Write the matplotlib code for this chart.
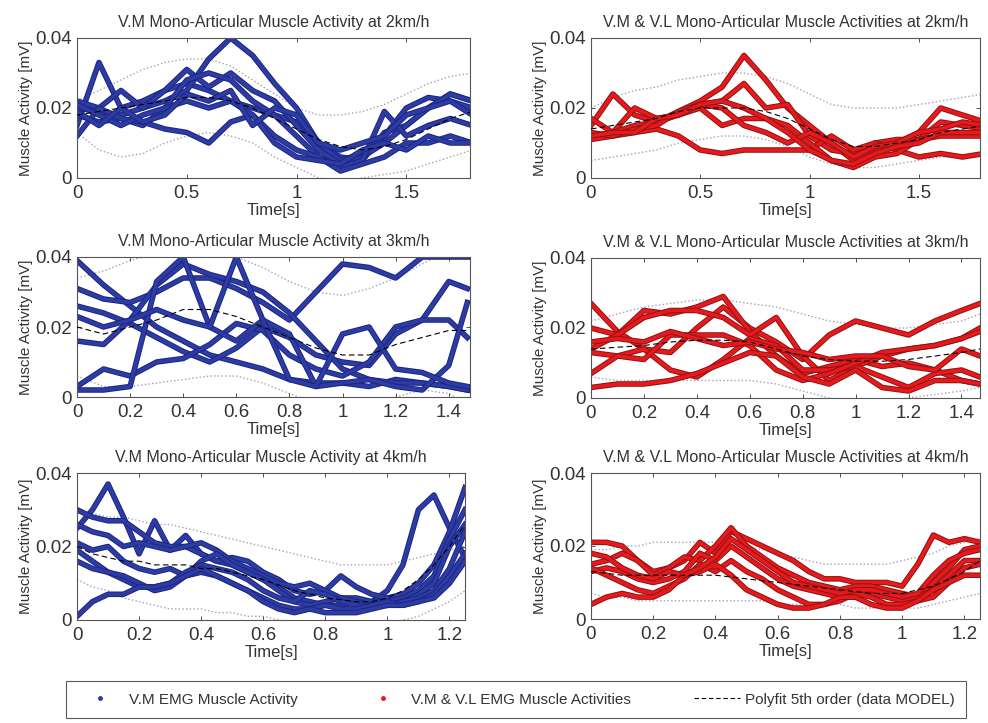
import numpy as np
import matplotlib.pyplot as plt
import matplotlib.patheffects as pe
from matplotlib.lines import Line2D

plt.rcParams['font.family'] = ['Liberation Sans', 'DejaVu Sans']

# ---------------- data ----------------
# V.M, 2 km/h  (t step 0.1 s)
vm2_t = [0.0, 0.1, 0.2, 0.3, 0.4, 0.5, 0.6, 0.7, 0.8, 0.9, 1.0, 1.1, 1.2, 1.3, 1.4, 1.5, 1.6, 1.7, 1.8]
vm2_traces = [
    [0.015, 0.033, 0.020, 0.022, 0.025, 0.027, 0.025, 0.022, 0.020, 0.018, 0.016, 0.010, 0.006, 0.005, 0.013, 0.015, 0.020, 0.024, 0.022],
    [0.020, 0.019, 0.018, 0.020, 0.022, 0.025, 0.034, 0.040, 0.035, 0.027, 0.020, 0.010, 0.005, 0.007, 0.012, 0.020, 0.023, 0.022, 0.020],
    [0.022, 0.020, 0.025, 0.020, 0.025, 0.031, 0.026, 0.030, 0.025, 0.022, 0.015, 0.008, 0.004, 0.006, 0.010, 0.015, 0.020, 0.024, 0.022],
    [0.018, 0.016, 0.017, 0.015, 0.020, 0.028, 0.030, 0.028, 0.022, 0.018, 0.012, 0.006, 0.003, 0.005, 0.019, 0.012, 0.015, 0.017, 0.015],
    [0.012, 0.020, 0.017, 0.016, 0.014, 0.013, 0.010, 0.016, 0.018, 0.012, 0.008, 0.006, 0.002, 0.004, 0.006, 0.010, 0.010, 0.012, 0.010],
    [0.021, 0.018, 0.015, 0.018, 0.020, 0.022, 0.020, 0.022, 0.018, 0.010, 0.006, 0.005, 0.004, 0.008, 0.010, 0.008, 0.012, 0.010, 0.010],
    [0.019, 0.015, 0.020, 0.016, 0.018, 0.024, 0.022, 0.025, 0.015, 0.020, 0.018, 0.010, 0.008, 0.010, 0.012, 0.018, 0.020, 0.022, 0.018],
]
vm2_upper = [0.022, 0.025, 0.028, 0.031, 0.033, 0.034, 0.034, 0.032, 0.028, 0.024, 0.020, 0.018, 0.018, 0.019, 0.021, 0.024, 0.027, 0.029, 0.030]
vm2_lower = [0.013, 0.008, 0.006, 0.007, 0.010, 0.012, 0.013, 0.012, 0.010, 0.006, 0.003, 0.000, -0.001, 0.000, 0.001, 0.002, 0.004, 0.006, 0.008]
vm2_fit = [0.018, 0.019, 0.020, 0.021, 0.022, 0.023, 0.023, 0.022, 0.020, 0.017, 0.014, 0.011, 0.009, 0.008, 0.009, 0.011, 0.014, 0.017, 0.019]

# V.M & V.L, 2 km/h
vl2_t = vm2_t
vl2_traces = [
    [0.015, 0.024, 0.018, 0.016, 0.019, 0.022, 0.026, 0.035, 0.028, 0.020, 0.015, 0.010, 0.005, 0.008, 0.010, 0.013, 0.020, 0.018, 0.016],
    [0.012, 0.013, 0.020, 0.017, 0.018, 0.021, 0.022, 0.027, 0.020, 0.021, 0.012, 0.008, 0.007, 0.010, 0.011, 0.011, 0.016, 0.015, 0.014],
    [0.011, 0.012, 0.013, 0.014, 0.012, 0.008, 0.007, 0.008, 0.008, 0.008, 0.008, 0.012, 0.008, 0.010, 0.008, 0.006, 0.007, 0.006, 0.007],
    [0.017, 0.013, 0.015, 0.016, 0.018, 0.020, 0.015, 0.017, 0.017, 0.015, 0.010, 0.005, 0.003, 0.006, 0.007, 0.011, 0.012, 0.012, 0.012],
    [0.013, 0.012, 0.014, 0.015, 0.019, 0.021, 0.020, 0.015, 0.013, 0.010, 0.013, 0.010, 0.006, 0.009, 0.010, 0.013, 0.014, 0.016, 0.015],
    [0.012, 0.013, 0.013, 0.017, 0.018, 0.021, 0.022, 0.020, 0.017, 0.013, 0.008, 0.005, 0.004, 0.007, 0.009, 0.010, 0.013, 0.013, 0.013],
]
vl2_upper = [0.020, 0.023, 0.025, 0.026, 0.028, 0.029, 0.030, 0.030, 0.029, 0.027, 0.024, 0.021, 0.020, 0.020, 0.020, 0.021, 0.022, 0.023, 0.024]
vl2_lower = [0.005, 0.006, 0.007, 0.008, 0.010, 0.011, 0.012, 0.012, 0.011, 0.009, 0.006, 0.004, 0.003, 0.003, 0.004, 0.005, 0.006, 0.006, 0.007]
vl2_fit = [0.014, 0.015, 0.016, 0.017, 0.019, 0.020, 0.020, 0.020, 0.019, 0.017, 0.014, 0.011, 0.009, 0.009, 0.010, 0.011, 0.013, 0.014, 0.015]

# V.M, 3 km/h
vm3_t = [0.0, 0.1, 0.2, 0.3, 0.4, 0.5, 0.6, 0.7, 0.8, 0.9, 1.0, 1.1, 1.2, 1.3, 1.4, 1.47]
vm3_traces = [
    [0.039, 0.032, 0.026, 0.020, 0.016, 0.012, 0.010, 0.008, 0.005, 0.004, 0.004, 0.003, 0.005, 0.004, 0.003, 0.002],
    [0.031, 0.028, 0.027, 0.030, 0.034, 0.034, 0.031, 0.027, 0.022, 0.030, 0.038, 0.037, 0.034, 0.040, 0.040, 0.040],
    [0.026, 0.024, 0.021, 0.017, 0.013, 0.010, 0.014, 0.020, 0.017, 0.012, 0.010, 0.009, 0.018, 0.022, 0.033, 0.031],
    [0.016, 0.015, 0.022, 0.032, 0.038, 0.035, 0.033, 0.030, 0.024, 0.016, 0.008, 0.005, 0.004, 0.004, 0.003, 0.002],
    [0.003, 0.008, 0.006, 0.010, 0.011, 0.015, 0.021, 0.019, 0.012, 0.008, 0.006, 0.010, 0.020, 0.022, 0.022, 0.017],
    [0.002, 0.002, 0.003, 0.033, 0.040, 0.020, 0.016, 0.022, 0.018, 0.003, 0.004, 0.005, 0.003, 0.002, 0.009, 0.027],
    [0.023, 0.020, 0.022, 0.025, 0.022, 0.020, 0.040, 0.022, 0.005, 0.003, 0.018, 0.020, 0.008, 0.007, 0.004, 0.003],
]
vm3_upper = [0.034, 0.036, 0.039, 0.041, 0.042, 0.042, 0.040, 0.037, 0.033, 0.030, 0.029, 0.031, 0.034, 0.038, 0.042, 0.045]
vm3_lower = [0.006, 0.003, 0.003, 0.004, 0.005, 0.006, 0.006, 0.004, 0.001, -0.002, -0.003, -0.002, 0.000, 0.002, 0.001, -0.002]
vm3_fit = [0.020, 0.018, 0.020, 0.022, 0.025, 0.025, 0.023, 0.020, 0.017, 0.014, 0.012, 0.012, 0.015, 0.017, 0.019, 0.019]

# V.M & V.L, 3 km/h
vl3_t = vm3_t
vl3_traces = [
    [0.027, 0.019, 0.014, 0.013, 0.020, 0.026, 0.020, 0.016, 0.011, 0.018, 0.022, 0.020, 0.018, 0.022, 0.025, 0.027],
    [0.020, 0.018, 0.025, 0.024, 0.026, 0.029, 0.019, 0.012, 0.007, 0.009, 0.011, 0.009, 0.010, 0.008, 0.005, 0.004],
    [0.014, 0.018, 0.023, 0.025, 0.025, 0.023, 0.018, 0.023, 0.012, 0.005, 0.009, 0.012, 0.014, 0.015, 0.017, 0.020],
    [0.013, 0.012, 0.014, 0.008, 0.006, 0.011, 0.017, 0.015, 0.008, 0.008, 0.009, 0.006, 0.003, 0.007, 0.008, 0.006],
    [0.007, 0.012, 0.011, 0.018, 0.018, 0.018, 0.015, 0.008, 0.005, 0.007, 0.010, 0.013, 0.014, 0.015, 0.017, 0.019],
    [0.003, 0.004, 0.004, 0.005, 0.007, 0.010, 0.013, 0.012, 0.006, 0.004, 0.008, 0.003, 0.002, 0.005, 0.005, 0.004],
    [0.016, 0.017, 0.016, 0.019, 0.017, 0.015, 0.016, 0.014, 0.013, 0.011, 0.012, 0.012, 0.009, 0.008, 0.014, 0.012],
]
vl3_upper = [0.022, 0.024, 0.026, 0.027, 0.028, 0.028, 0.027, 0.026, 0.024, 0.022, 0.021, 0.020, 0.020, 0.021, 0.022, 0.024]
vl3_lower = [0.006, 0.005, 0.005, 0.005, 0.005, 0.005, 0.005, 0.004, 0.002, 0.000, -0.001, -0.001, 0.000, 0.001, 0.002, 0.003]
vl3_fit = [0.014, 0.0145, 0.015, 0.016, 0.0165, 0.0165, 0.016, 0.014, 0.012, 0.011, 0.0105, 0.0105, 0.011, 0.012, 0.013, 0.014]

# V.M, 4 km/h  (t step 0.05 s)
vm4_t = [0.0, 0.05, 0.1, 0.15, 0.2, 0.25, 0.3, 0.35, 0.4, 0.45, 0.5, 0.55, 0.6, 0.65, 0.7,
         0.75, 0.8, 0.85, 0.9, 0.95, 1.0, 1.05, 1.1, 1.15, 1.2, 1.25]
vm4_traces = [
    [0.025, 0.030, 0.037, 0.028, 0.018, 0.027, 0.019, 0.023, 0.018, 0.016, 0.015, 0.013, 0.011, 0.009, 0.006, 0.005, 0.004, 0.004, 0.005, 0.005, 0.008, 0.015, 0.030, 0.034, 0.025, 0.017],
    [0.030, 0.028, 0.027, 0.027, 0.024, 0.021, 0.020, 0.020, 0.018, 0.016, 0.017, 0.016, 0.013, 0.011, 0.008, 0.007, 0.008, 0.012, 0.009, 0.007, 0.006, 0.007, 0.010, 0.015, 0.024, 0.036],
    [0.026, 0.024, 0.023, 0.020, 0.021, 0.020, 0.019, 0.020, 0.021, 0.019, 0.016, 0.014, 0.012, 0.010, 0.009, 0.010, 0.008, 0.006, 0.006, 0.005, 0.005, 0.006, 0.008, 0.012, 0.022, 0.030],
    [0.021, 0.019, 0.020, 0.016, 0.014, 0.013, 0.014, 0.012, 0.016, 0.018, 0.015, 0.013, 0.011, 0.008, 0.005, 0.004, 0.005, 0.006, 0.005, 0.004, 0.004, 0.005, 0.007, 0.010, 0.020, 0.026],
    [0.019, 0.016, 0.013, 0.011, 0.009, 0.009, 0.010, 0.013, 0.015, 0.014, 0.013, 0.011, 0.008, 0.006, 0.005, 0.008, 0.007, 0.005, 0.004, 0.004, 0.004, 0.005, 0.006, 0.008, 0.014, 0.024],
    [0.016, 0.014, 0.013, 0.012, 0.010, 0.008, 0.009, 0.012, 0.013, 0.012, 0.010, 0.008, 0.006, 0.004, 0.003, 0.003, 0.004, 0.003, 0.003, 0.004, 0.005, 0.004, 0.005, 0.007, 0.012, 0.018],
    [0.001, 0.005, 0.007, 0.007, 0.009, 0.009, 0.010, 0.012, 0.014, 0.012, 0.010, 0.008, 0.005, 0.003, 0.002, 0.003, 0.002, 0.002, 0.002, 0.003, 0.004, 0.004, 0.005, 0.006, 0.010, 0.016],
]
vm4_upper = [0.029, 0.029, 0.028, 0.028, 0.027, 0.026, 0.026, 0.025, 0.024, 0.023, 0.022, 0.021, 0.020, 0.019, 0.018, 0.017, 0.016, 0.015, 0.015, 0.015, 0.015, 0.016, 0.017, 0.018, 0.019, 0.020]
vm4_lower = [0.011, 0.009, 0.008, 0.006, 0.005, 0.004, 0.003, 0.003, 0.003, 0.002, 0.002, 0.001, 0.001, 0.000, -0.001, -0.001, -0.002, -0.002, -0.002, -0.002, -0.001, 0.000, 0.001, 0.003, 0.005, 0.008]
vm4_fit = [0.020, 0.018, 0.017, 0.016, 0.016, 0.015, 0.015, 0.015, 0.014, 0.014, 0.013, 0.012, 0.011, 0.0095, 0.008, 0.007, 0.006, 0.0055, 0.005, 0.005, 0.006, 0.008, 0.011, 0.015, 0.020, 0.026]

# V.M & V.L, 4 km/h
vl4_t = vm4_t
vl4_traces = [
    [0.021, 0.021, 0.020, 0.016, 0.013, 0.014, 0.016, 0.021, 0.018, 0.024, 0.022, 0.020, 0.018, 0.016, 0.013, 0.011, 0.011, 0.010, 0.010, 0.010, 0.009, 0.015, 0.023, 0.021, 0.022, 0.021],
    [0.015, 0.016, 0.018, 0.016, 0.012, 0.014, 0.017, 0.016, 0.020, 0.025, 0.020, 0.017, 0.014, 0.012, 0.010, 0.009, 0.008, 0.009, 0.009, 0.008, 0.007, 0.006, 0.010, 0.014, 0.019, 0.020],
    [0.013, 0.014, 0.013, 0.011, 0.010, 0.011, 0.013, 0.018, 0.016, 0.020, 0.017, 0.014, 0.011, 0.009, 0.008, 0.007, 0.006, 0.006, 0.007, 0.006, 0.005, 0.006, 0.008, 0.012, 0.016, 0.016],
    [0.014, 0.012, 0.010, 0.008, 0.007, 0.009, 0.011, 0.015, 0.013, 0.016, 0.013, 0.011, 0.008, 0.006, 0.004, 0.004, 0.005, 0.007, 0.006, 0.004, 0.004, 0.005, 0.006, 0.010, 0.014, 0.015],
    [0.004, 0.006, 0.007, 0.006, 0.006, 0.008, 0.012, 0.013, 0.015, 0.012, 0.008, 0.006, 0.004, 0.003, 0.003, 0.004, 0.006, 0.006, 0.004, 0.003, 0.003, 0.005, 0.008, 0.010, 0.012, 0.012],
    [0.018, 0.017, 0.014, 0.012, 0.011, 0.013, 0.012, 0.014, 0.017, 0.022, 0.019, 0.016, 0.013, 0.010, 0.009, 0.008, 0.007, 0.008, 0.008, 0.007, 0.006, 0.007, 0.012, 0.016, 0.018, 0.019],
]
vl4_upper = [0.019, 0.019, 0.020, 0.020, 0.021, 0.021, 0.021, 0.021, 0.021, 0.020, 0.020, 0.019, 0.018, 0.017, 0.016, 0.015, 0.015, 0.015, 0.015, 0.015, 0.016, 0.017, 0.018, 0.020, 0.021, 0.022]
vl4_lower = [0.007, 0.006, 0.006, 0.005, 0.005, 0.005, 0.005, 0.005, 0.005, 0.005, 0.005, 0.005, 0.004, 0.004, 0.004, 0.004, 0.004, 0.003, 0.003, 0.003, 0.003, 0.003, 0.004, 0.005, 0.006, 0.007]
vl4_fit = [0.013, 0.0125, 0.012, 0.012, 0.012, 0.012, 0.012, 0.012, 0.012, 0.0115, 0.011, 0.0105, 0.010, 0.0095, 0.009, 0.0085, 0.008, 0.0075, 0.007, 0.007, 0.007, 0.008, 0.009, 0.011, 0.013, 0.016]

titles = ['V.M Mono-Articular Muscle Activity at 2km/h',
          'V.M & V.L Mono-Articular Muscle Activities at 2km/h',
          'V.M Mono-Articular Muscle Activity at 3km/h',
          'V.M & V.L Mono-Articular Muscle Activities at 3km/h',
          'V.M Mono-Articular Muscle Activity at 4km/h',
          'V.M & V.L Mono-Articular Muscle Activities at 4km/h']
legend_labels = ['V.M EMG Muscle Activity', 'V.M & V.L EMG Muscle Activities',
                 'Polyfit 5th order (data MODEL)']

BLUE = '#2d3ca4'
BLUE_EDGE = '#1c2580'
RED = '#e8191c'
RED_EDGE = '#8a1414'
TXT = '#333333'


def draw_panel(ax, t, traces, upper, lower, fit, color, edge, xmax, xticks, title):
    ax.plot(t, upper, ':', color='#a89cbc', lw=1.0, zorder=1)
    ax.plot(t, lower, ':', color='#a89cbc', lw=1.0, zorder=1)
    for y in traces:
        ax.plot(t, y, '-', color=color, lw=2.6, solid_joinstyle='round', zorder=2,
                path_effects=[pe.Stroke(linewidth=4.0, foreground=edge), pe.Normal()])
    ax.plot(t, fit, '--', color='black', lw=0.8, dashes=(5, 3), zorder=3)
    ax.set_xlim(0, xmax)
    ax.set_ylim(0, 0.04)
    ax.set_xticks(xticks)
    ax.set_xticklabels([f'{v:g}' for v in xticks])
    ax.set_yticks([0, 0.02, 0.04])
    ax.set_yticklabels(['0', '0.02', '0.04'])
    ax.tick_params(direction='in', top=True, right=True, labelsize=13.5, length=3,
                   width=0.6, colors=TXT)
    ax.tick_params(axis='x', pad=5)
    ax.tick_params(axis='y', pad=3.5)
    for s in ax.spines.values():
        s.set_linewidth(0.8)
        s.set_color('#555555')
    ax.set_title(title, fontsize=11.5, pad=8, color=TXT)
    ax.set_xlabel('Time[s]', fontsize=12, labelpad=1, color=TXT)
    ax.set_ylabel('Muscle Activity [mV]', fontsize=11, labelpad=2, color=TXT)


fig = plt.figure(figsize=(9.88, 7.23), dpi=100)
W, H = 988, 723


def px_axes(x0, x1, y0, y1):
    return fig.add_axes([x0 / W, (H - y1) / H, (x1 - x0) / W, (y1 - y0) / H])


ax1 = px_axes(77, 470, 38, 178)
ax2 = px_axes(591, 980, 38, 178)
ax3 = px_axes(77, 470, 257, 397)
ax4 = px_axes(591, 980, 258, 398)
ax5 = px_axes(77, 465, 473, 620)
ax6 = px_axes(591, 980, 473, 619)

draw_panel(ax1, vm2_t, vm2_traces, vm2_upper, vm2_lower, vm2_fit, BLUE, BLUE_EDGE,
           1.79, [0, 0.5, 1, 1.5], titles[0])
draw_panel(ax2, vl2_t, vl2_traces, vl2_upper, vl2_lower, vl2_fit, RED, RED_EDGE,
           1.78, [0, 0.5, 1, 1.5], titles[1])
draw_panel(ax3, vm3_t, vm3_traces, vm3_upper, vm3_lower, vm3_fit, BLUE, BLUE_EDGE,
           1.48, [0, 0.2, 0.4, 0.6, 0.8, 1, 1.2, 1.4], titles[2])
draw_panel(ax4, vl3_t, vl3_traces, vl3_upper, vl3_lower, vl3_fit, RED, RED_EDGE,
           1.47, [0, 0.2, 0.4, 0.6, 0.8, 1, 1.2, 1.4], titles[3])
draw_panel(ax5, vm4_t, vm4_traces, vm4_upper, vm4_lower, vm4_fit, BLUE, BLUE_EDGE,
           1.25, [0, 0.2, 0.4, 0.6, 0.8, 1, 1.2], titles[4])
draw_panel(ax6, vl4_t, vl4_traces, vl4_upper, vl4_lower, vl4_fit, RED, RED_EDGE,
           1.25, [0, 0.2, 0.4, 0.6, 0.8, 1, 1.2], titles[5])

# legend box at the bottom
handles = [
    Line2D([], [], ls='none', marker='.', color=BLUE, markersize=5),
    Line2D([], [], ls='none', marker='.', color=RED, markersize=5),
    Line2D([], [], ls='--', color='black', lw=0.8, dashes=(4, 2.5)),
]
leg = fig.legend(handles, legend_labels, loc='lower left', ncol=3,
                 bbox_to_anchor=(66 / W, 5 / H), fontsize=11,
                 frameon=True, fancybox=False, edgecolor=TXT, handlelength=3.0,
                 handletextpad=0.35, borderaxespad=0, borderpad=0.75, columnspacing=4.1)
leg.get_frame().set_linewidth(0.8)
for txt in leg.get_texts():
    txt.set_color(TXT)

fig.savefig('out.png', dpi=100, facecolor='white')
